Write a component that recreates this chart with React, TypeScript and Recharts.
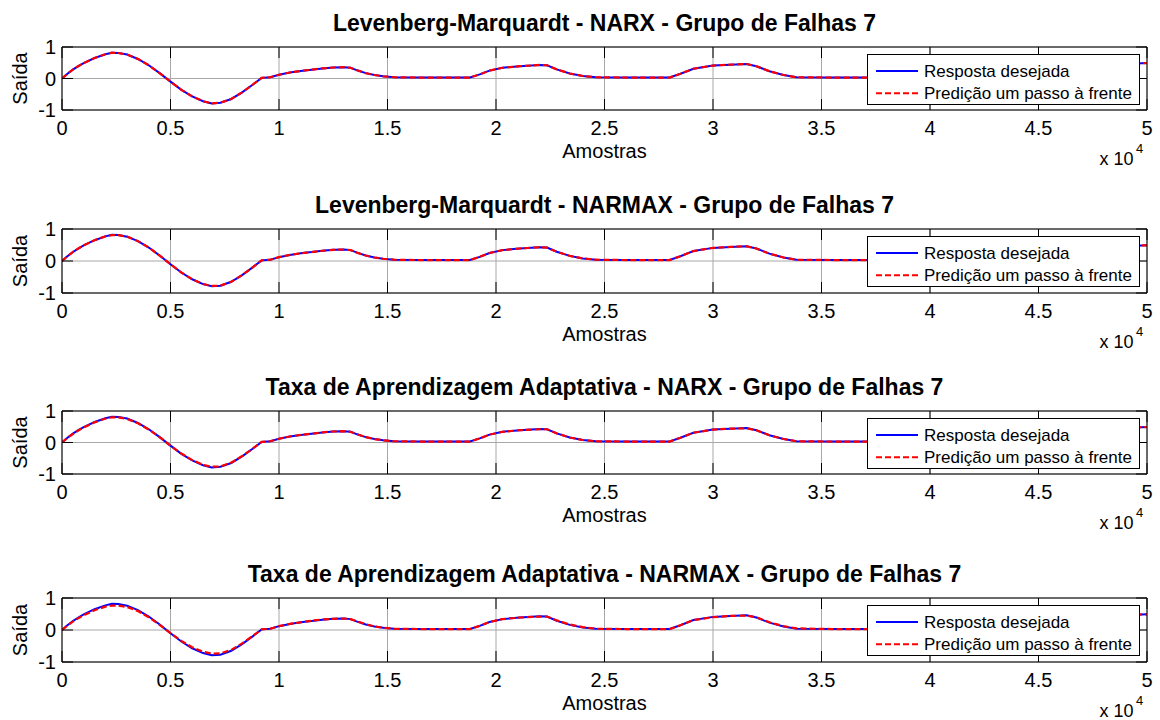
import React from 'react';
import { LineChart, Line, XAxis, YAxis, CartesianGrid, Legend } from 'recharts';

// Sample index of every stored point (x axis, "Amostras")
const amostras = [
  0, 250, 500, 750, 1000, 1500, 2000, 2300, 2600, 3000,
  3500, 4000, 4500, 5000, 5500, 6000, 6500, 6900, 7300, 7800,
  8300, 8800, 9200, 9600, 10000, 10500, 11000, 11500, 12000, 12500,
  13000, 13300, 13600, 14000, 14400, 14800, 15300, 16500, 17700, 18800,
  19250, 19700, 20300, 21100, 22000, 22350, 22800, 23400, 24000, 24600,
  26000, 28000, 28500, 29100, 30000, 30800, 31550, 32000, 32600, 33250,
  33850, 35500, 37300, 37800, 38400, 39300, 40200, 40900, 41400, 42000,
  42600, 43200, 45000, 46600, 47100, 47700, 48600, 49500, 50000,
];

// Desired response (same target in every panel)
const respostaDesejada = [
  0.0, 0.15, 0.28, 0.39, 0.49, 0.65, 0.77, 0.82, 0.81, 0.76,
  0.62, 0.42, 0.17, -0.1, -0.36, -0.57, -0.72, -0.79, -0.77, -0.65,
  -0.44, -0.19, 0.02, 0.04, 0.12, 0.19, 0.24, 0.28, 0.32, 0.35,
  0.36, 0.34, 0.26, 0.17, 0.11, 0.07, 0.04, 0.03, 0.03, 0.03,
  0.13, 0.25, 0.34, 0.39, 0.43, 0.42, 0.29, 0.16, 0.08, 0.04,
  0.03, 0.03, 0.15, 0.31, 0.41, 0.44, 0.46, 0.39, 0.23, 0.11,
  0.04, 0.03, 0.03, 0.16, 0.32, 0.42, 0.46, 0.48, 0.4, 0.22,
  0.1, 0.04, 0.03, 0.03, 0.16, 0.32, 0.42, 0.48, 0.49,
];

// One-step-ahead predictions, one list per trained model
const predLmNarx = [
  0.0, 0.15, 0.28, 0.39, 0.49, 0.65, 0.77, 0.82, 0.81, 0.76,
  0.62, 0.42, 0.17, -0.1, -0.36, -0.57, -0.72, -0.79, -0.77, -0.65,
  -0.44, -0.19, 0.02, 0.04, 0.12, 0.19, 0.24, 0.28, 0.32, 0.35,
  0.36, 0.34, 0.26, 0.17, 0.11, 0.07, 0.04, 0.03, 0.03, 0.03,
  0.13, 0.25, 0.34, 0.39, 0.43, 0.42, 0.29, 0.16, 0.08, 0.04,
  0.03, 0.03, 0.15, 0.31, 0.41, 0.44, 0.46, 0.39, 0.23, 0.11,
  0.04, 0.03, 0.03, 0.16, 0.32, 0.42, 0.46, 0.48, 0.4, 0.22,
  0.1, 0.04, 0.03, 0.03, 0.16, 0.32, 0.42, 0.48, 0.49,
];

const predLmNarmax = [
  0.0, 0.15, 0.28, 0.39, 0.49, 0.65, 0.77, 0.81, 0.81, 0.76,
  0.62, 0.42, 0.17, -0.1, -0.36, -0.57, -0.72, -0.78, -0.77, -0.65,
  -0.44, -0.19, 0.02, 0.04, 0.12, 0.19, 0.24, 0.28, 0.32, 0.35,
  0.36, 0.34, 0.26, 0.17, 0.11, 0.07, 0.04, 0.03, 0.03, 0.03,
  0.13, 0.25, 0.34, 0.39, 0.43, 0.42, 0.29, 0.16, 0.08, 0.04,
  0.03, 0.03, 0.15, 0.31, 0.41, 0.44, 0.46, 0.39, 0.23, 0.11,
  0.04, 0.03, 0.03, 0.16, 0.32, 0.42, 0.46, 0.48, 0.4, 0.22,
  0.1, 0.04, 0.03, 0.03, 0.16, 0.32, 0.42, 0.48, 0.49,
];

const predTaxaNarx = [
  0.0, 0.15, 0.27, 0.38, 0.48, 0.64, 0.76, 0.8, 0.8, 0.75,
  0.61, 0.41, 0.17, -0.1, -0.35, -0.56, -0.71, -0.77, -0.76, -0.64,
  -0.43, -0.19, 0.02, 0.04, 0.12, 0.19, 0.24, 0.28, 0.32, 0.35,
  0.36, 0.34, 0.26, 0.17, 0.11, 0.07, 0.04, 0.03, 0.03, 0.03,
  0.13, 0.25, 0.34, 0.39, 0.42, 0.42, 0.29, 0.16, 0.08, 0.04,
  0.03, 0.03, 0.15, 0.31, 0.41, 0.44, 0.45, 0.39, 0.23, 0.11,
  0.04, 0.03, 0.03, 0.16, 0.32, 0.42, 0.46, 0.48, 0.4, 0.22,
  0.1, 0.04, 0.03, 0.03, 0.16, 0.32, 0.42, 0.48, 0.49,
];

const predTaxaNarmax = [
  0.0, 0.14, 0.26, 0.37, 0.46, 0.62, 0.73, 0.76, 0.76, 0.72,
  0.59, 0.4, 0.16, -0.1, -0.34, -0.54, -0.68, -0.74, -0.73, -0.62,
  -0.42, -0.18, 0.02, 0.04, 0.12, 0.19, 0.24, 0.29, 0.33, 0.35,
  0.36, 0.34, 0.27, 0.18, 0.11, 0.07, 0.04, 0.03, 0.03, 0.03,
  0.13, 0.25, 0.34, 0.39, 0.42, 0.42, 0.3, 0.17, 0.09, 0.04,
  0.03, 0.03, 0.15, 0.31, 0.4, 0.44, 0.45, 0.4, 0.24, 0.12,
  0.05, 0.03, 0.03, 0.16, 0.32, 0.42, 0.46, 0.48, 0.4, 0.22,
  0.1, 0.04, 0.03, 0.03, 0.16, 0.32, 0.42, 0.48, 0.49,
];

const titulos = [
  'Levenberg-Marquardt - NARX - Grupo de Falhas 7',
  'Levenberg-Marquardt - NARMAX - Grupo de Falhas 7',
  'Taxa de Aprendizagem Adaptativa - NARX - Grupo de Falhas 7',
  'Taxa de Aprendizagem Adaptativa - NARMAX - Grupo de Falhas 7',
];

const xTicks = [0, 5000, 10000, 15000, 20000, 25000, 30000, 35000, 40000, 45000, 50000];
const xTickLabels = ['0', '0.5', '1', '1.5', '2', '2.5', '3', '3.5', '4', '4.5', '5'];
const yTicks = [-1, 0, 1];
const yTickLabels = ['-1', '0', '1'];

const nomeDesejada = 'Resposta desejada';
const nomePredicao = 'Predição um passo à frente';

// Layout
const FONT = '"Liberation Sans", Arial, Helvetica, sans-serif';
const CHART_W = 1160;
const CHART_H = 172;
const PLOT_TOP = 47;
const PLOT_LEFT = 62;
const PLOT_RIGHT = 1147;
const AXIS_SIZE = 1; // axes need a non-zero box to be drawn
const TICK_LEN = 11;
const GRID = '#a8a8a8';
const AZUL = '#0000ff';
const VERMELHO = '#ff0000';
const TRACEJADO = '6 3';

const paineis = [
  { top: 47, plotH: 63, titulo: titulos[0], pred: predLmNarx },
  { top: 229, plotH: 64, titulo: titulos[1], pred: predLmNarmax },
  { top: 411, plotH: 63, titulo: titulos[2], pred: predTaxaNarx },
  { top: 598, plotH: 64, titulo: titulos[3], pred: predTaxaNarmax },
];

const ordemLegenda = ['desejada', 'predicao'];

function CaixaLegenda({ payload }: { payload?: any[] }) {
  const itens = [...(payload ?? [])].sort(
    (a, b) => ordemLegenda.indexOf(a.dataKey) - ordemLegenda.indexOf(b.dataKey)
  );
  return (
    <div
      style={{
        width: 273,
        height: 51,
        boxSizing: 'border-box',
        border: '1px solid #000',
        background: '#fff',
      }}
    >
      <svg width={271} height={49} style={{ display: 'block' }}>
        {itens.map((item, i) => {
          const cy = 16 + i * 22.3;
          return (
            <g key={String(item.dataKey)}>
              <line
                x1={8}
                x2={50}
                y1={cy}
                y2={cy}
                stroke={item.color}
                strokeWidth={2}
                strokeDasharray={item.dataKey === 'predicao' ? TRACEJADO : undefined}
              />
              <text
                x={56}
                y={cy}
                dominantBaseline="central"
                fontFamily={FONT}
                fontSize={17}
                fill="#000"
              >
                {item.value}
              </text>
            </g>
          );
        })}
      </svg>
    </div>
  );
}

function Painel({ titulo, pred, plotH }: { titulo: string; pred: number[]; plotH: number }) {
  const dados = amostras.map((x, i) => ({
    x,
    desejada: respostaDesejada[i],
    predicao: pred[i],
  }));
  const plotBottom = PLOT_TOP + plotH;
  const centroX = (PLOT_LEFT + PLOT_RIGHT) / 2;

  const tickX = (props: any) => {
    const { x, payload } = props;
    const rotulo = xTickLabels[xTicks.indexOf(payload.value)];
    return (
      <g>
        <line x1={x} x2={x} y1={plotBottom} y2={plotBottom - TICK_LEN} stroke="#000" />
        <line x1={x} x2={x} y1={PLOT_TOP} y2={PLOT_TOP + TICK_LEN} stroke="#000" />
        <text
          x={x}
          y={plotBottom + 18}
          textAnchor="middle"
          dominantBaseline="central"
          fontFamily={FONT}
          fontSize={20}
          fill="#000"
        >
          {rotulo}
        </text>
      </g>
    );
  };

  const tickY = (props: any) => {
    const { y, payload } = props;
    const rotulo = yTickLabels[yTicks.indexOf(payload.value)];
    return (
      <g>
        <line x1={PLOT_LEFT} x2={PLOT_LEFT + TICK_LEN} y1={y} y2={y} stroke="#000" />
        <line x1={PLOT_RIGHT} x2={PLOT_RIGHT - TICK_LEN} y1={y} y2={y} stroke="#000" />
        <text
          x={PLOT_LEFT - 6}
          y={y}
          textAnchor="end"
          dominantBaseline="central"
          fontFamily={FONT}
          fontSize={20}
          fill="#000"
        >
          {rotulo}
        </text>
      </g>
    );
  };

  const rotuloX = () => (
    <g>
      <text
        x={centroX}
        y={plotBottom + 41}
        textAnchor="middle"
        dominantBaseline="central"
        fontFamily={FONT}
        fontSize={20}
        fill="#000"
      >
        Amostras
      </text>
      <text
        x={1133.5}
        y={plotBottom + 49}
        textAnchor="end"
        dominantBaseline="central"
        fontFamily={FONT}
        fontSize={18}
        fill="#000"
      >
        x 10
      </text>
      <text
        x={1136}
        y={plotBottom + 38}
        dominantBaseline="central"
        fontFamily={FONT}
        fontSize={13}
        fill="#000"
      >
        4
      </text>
    </g>
  );

  const rotuloTitulo = () => (
    <text
      x={centroX}
      y={PLOT_TOP - 24}
      textAnchor="middle"
      dominantBaseline="central"
      fontFamily={FONT}
      fontSize={23}
      fontWeight="bold"
      fill="#000"
    >
      {titulo}
    </text>
  );

  const rotuloY = () => {
    const cy = PLOT_TOP + plotH / 2;
    return (
      <text
        x={20}
        y={cy}
        transform={`rotate(-90 20 ${cy})`}
        textAnchor="middle"
        dominantBaseline="central"
        fontFamily={FONT}
        fontSize={20}
        fill="#000"
      >
        Saída
      </text>
    );
  };

  return (
    <LineChart
      width={CHART_W}
      height={CHART_H}
      data={dados}
      margin={{
        top: PLOT_TOP - AXIS_SIZE,
        right: CHART_W - PLOT_RIGHT - AXIS_SIZE,
        bottom: CHART_H - PLOT_TOP - plotH - AXIS_SIZE,
        left: PLOT_LEFT - AXIS_SIZE,
      }}
    >
      <CartesianGrid stroke={GRID} strokeWidth={1} />
      <XAxis
        dataKey="x"
        type="number"
        domain={[0, 50000]}
        ticks={xTicks}
        interval={0}
        allowDataOverflow
        height={AXIS_SIZE}
        tickSize={0}
        tickMargin={0}
        tickLine={false}
        axisLine={{ stroke: '#000' }}
        tick={tickX}
        label={rotuloX}
      />
      <XAxis
        xAxisId="topo"
        orientation="top"
        type="number"
        domain={[0, 50000]}
        allowDataOverflow
        height={AXIS_SIZE}
        tick={false}
        tickLine={false}
        axisLine={{ stroke: '#000' }}
        label={rotuloTitulo}
      />
      <YAxis
        type="number"
        domain={[-1, 1]}
        ticks={yTicks}
        interval={0}
        allowDataOverflow
        width={AXIS_SIZE}
        tickSize={0}
        tickMargin={0}
        tickLine={false}
        axisLine={{ stroke: '#000' }}
        tick={tickY}
        label={rotuloY}
      />
      <YAxis
        yAxisId="direita"
        orientation="right"
        type="number"
        domain={[-1, 1]}
        allowDataOverflow
        width={AXIS_SIZE}
        tick={false}
        tickLine={false}
        axisLine={{ stroke: '#000' }}
      />
      <Line
        dataKey="desejada"
        name={nomeDesejada}
        type="linear"
        stroke={AZUL}
        strokeWidth={2}
        dot={false}
        activeDot={false}
        isAnimationActive={false}
      />
      <Line
        dataKey="predicao"
        name={nomePredicao}
        type="linear"
        stroke={VERMELHO}
        strokeWidth={2.2}
        strokeDasharray={TRACEJADO}
        dot={false}
        activeDot={false}
        isAnimationActive={false}
      />
      <Legend
        layout="horizontal"
        verticalAlign="middle"
        align="center"
        wrapperStyle={{ position: 'absolute', left: 867, top: PLOT_TOP + 7, width: 273, height: 51 }}
        content={(props: any) => <CaixaLegenda payload={props.payload} />}
      />
    </LineChart>
  );
}

export default function App() {
  return (
    <div
      style={{
        position: 'absolute',
        left: 0,
        top: 0,
        width: CHART_W,
        height: 720,
        overflow: 'hidden',
        background: '#fff',
      }}
    >
      {paineis.map((p) => (
        <div
          key={p.titulo}
          style={{ position: 'absolute', left: 0, top: p.top - PLOT_TOP, width: CHART_W, height: CHART_H }}
        >
          <Painel titulo={p.titulo} pred={p.pred} plotH={p.plotH} />
        </div>
      ))}
    </div>
  );
}
